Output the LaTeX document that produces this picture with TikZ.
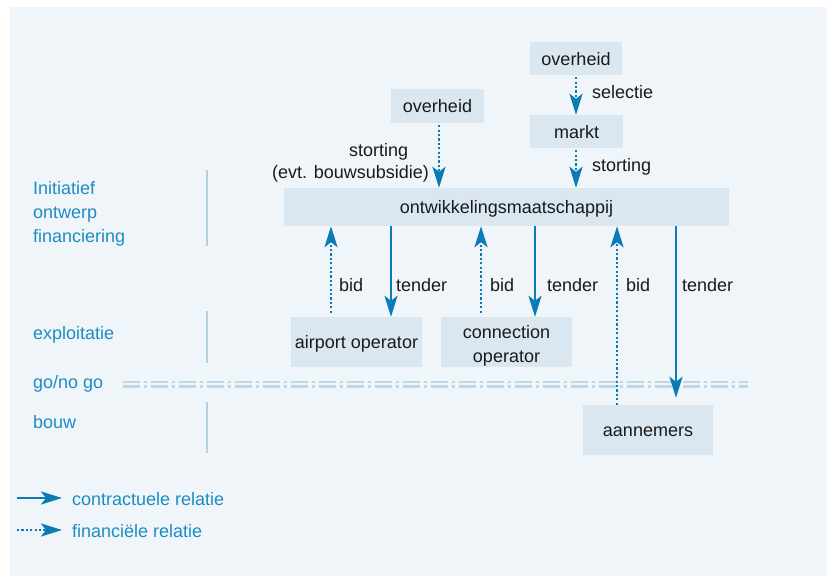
\documentclass[tikz,border=0pt]{standalone}
\usepackage{fontspec}
\setmainfont{Liberation Sans}
\usetikzlibrary{arrows.meta}

\definecolor{panel}{HTML}{F0F5F9}
\definecolor{boxfill}{HTML}{DAE7F0}
\definecolor{arrowblue}{HTML}{0B7BB5}
\definecolor{phaseblue}{HTML}{1C8DC4}
\definecolor{sepline}{HTML}{B7D1E3}
\definecolor{gonogo}{HTML}{BFD6E6}
\definecolor{ink}{HTML}{1A1A1A}

\begin{document}
\begin{tikzpicture}[x=1pt,y=-1pt,
  txt/.style={font=\fontsize{18}{24}\selectfont},
  box/.style={txt, fill=boxfill, inner sep=0pt, align=center, text=ink,
    text height=13.5pt, text depth=0pt},
  boxtext/.style={txt, inner sep=0pt, align=center, text=ink},
  lbl/.style={txt, inner sep=0pt, anchor=base west, text=ink},
  phase/.style={txt, inner sep=0pt, anchor=west, align=left, text=phaseblue},
  contr/.style={draw=arrowblue, line width=2.4pt,
    -{Stealth[length=21pt,width=13pt,inset=5pt]}},
  fin/.style={contr, dash pattern=on 2.2pt off 2.2pt},
  sep/.style={draw=sepline, line width=2.2pt},
  gline/.style={draw=gonogo, line width=2.2pt,
    dash pattern=on 17pt off 4pt on 3pt off 4pt}]

% page and background panel
\useasboundingbox (0,0) rectangle (827,576);
\fill[panel] (10,7) rectangle (827,576);

% phase labels and separators
\node[phase] (phInit) at (33,214) {Initiatief\\ontwerp\\financiering};
\node[phase] (phExpl) at (33,335) {exploitatie};
\node[phase] (phGo)   at (33,384) {go/no go};
\node[phase] (phBouw) at (33,422) {bouw};

\draw[sep] (207,170) -- (207,246);
\draw[sep] (207,311) -- (207,363);
\draw[sep] (207,402) -- (207,453);

% go / no go line
\draw[gline] (123,382) -- (748,382);
\draw[gline] (123,386.5) -- (748,386.5);

% boxes
\node[box, minimum width=92pt, minimum height=33pt] (ovR) at (576,58.5) {overheid};
\node[box, minimum width=93pt, minimum height=33pt] (markt) at (576.5,131.5) {markt};
\node[box, minimum width=93pt, minimum height=34pt] (ovL) at (437.5,106) {overheid};
\node[box, minimum width=445pt, minimum height=38pt] (ontw) at (506.5,207) {ontwikkelingsmaatschappij};
\node[box, minimum width=131pt, minimum height=50pt] (air) at (356.5,342) {airport operator};
\node[box, minimum width=131pt, minimum height=50pt] (conn) at (506.5,342) {};
\node[boxtext] (connT) at ([yshift=-4pt]conn.center) {connection\\operator};
\node[box, minimum width=130pt, minimum height=50pt] (aann) at (648,430) {aannemers};

% connector columns
\coordinate (cStL) at (439,0);
\coordinate (cStR) at (576,0);
\coordinate (cBid1) at (331,0);
\coordinate (cTen1) at (391,0);
\coordinate (cBid2) at (481,0);
\coordinate (cTen2) at (535,0);
\coordinate (cBid3) at (617,0);
\coordinate (cTen3) at (676,0);

% financing from above
\draw[fin] ([yshift=-2pt]ovR.south -| cStR) -- (markt.north -| cStR);
\draw[fin] ([yshift=-2pt]markt.south -| cStR) -- (ontw.north -| cStR);
\draw[fin] ([yshift=-2pt]ovL.south -| cStL) -- (ontw.north -| cStL);

\node[lbl] (lSel)  at (592,98)  {selectie};
\node[lbl] (lStR)  at (592,171) {storting};
\node[lbl] (lStL)  at (349,156) {storting};
\node[lbl] (lSub)  at (272,178) {(evt. bouwsubsidie)};

% bids and tenders
\draw[fin]   ([yshift=4pt]air.north -| cBid1) -- (ontw.south -| cBid1);
\draw[contr] (ontw.south -| cTen1) -- (air.north -| cTen1);
\draw[fin]   ([yshift=4pt]conn.north -| cBid2) -- (ontw.south -| cBid2);
\draw[contr] (ontw.south -| cTen2) -- (conn.north -| cTen2);
\draw[fin]   (aann.north -| cBid3) -- (ontw.south -| cBid3);
\draw[contr, shorten >=7pt] (ontw.south -| cTen3) -- (aann.north -| cTen3);

\node[lbl] (lBid1) at (339,291) {bid};
\node[lbl] (lTen1) at (396,291) {tender};
\node[lbl] (lBid2) at (490,291) {bid};
\node[lbl] (lTen2) at (547,291) {tender};
\node[lbl] (lBid3) at (626,291) {bid};
\node[lbl] (lTen3) at (682,291) {tender};

% legend
\coordinate (lgA) at (17,498);
\coordinate (lgB) at (62,498);
\coordinate (lgC) at (17,530);
\coordinate (lgD) at (62,530);
\draw[contr] (lgA) -- (lgB);
\draw[fin] (lgC) -- (lgD);
\node[phase] (lgContr) at (72,499) {contractuele relatie};
\node[phase] (lgFin) at (72,531) {financiële relatie};
\end{tikzpicture}
\end{document}
